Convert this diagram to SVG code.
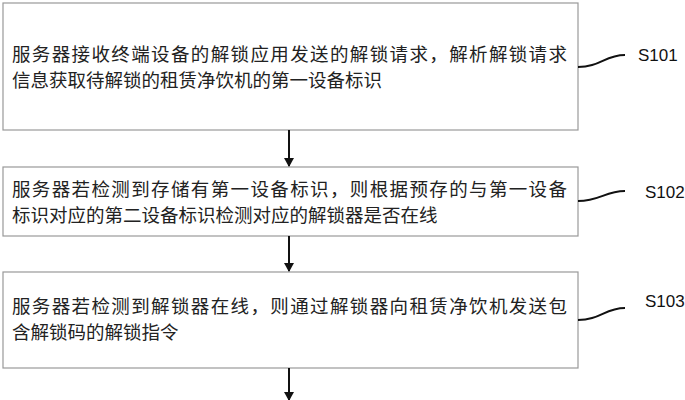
<svg xmlns="http://www.w3.org/2000/svg" width="685" height="400" viewBox="0 0 685 400">
<style>
.b{fill:#fff;stroke:#999;stroke-width:1.2}
.t{font-family:"Noto Sans CJK SC","Liberation Sans",sans-serif;font-size:18.5px;fill:#222}
.l{font-family:"Liberation Sans",sans-serif;font-size:17px;fill:#111}
.c{fill:none;stroke:#111;stroke-width:2}
.a{stroke:#111;stroke-width:2;fill:none}
</style>
<defs><marker id="m" markerWidth="10" markerHeight="10" refX="8" refY="5" orient="auto" markerUnits="userSpaceOnUse"><path d="M0,0 L9,5 L0,10 Z" fill="#111"/></marker></defs>
<g id="n1"><rect class="b" x="3" y="3" width="575" height="127"/>
<text class="t" x="12" y="61" textLength="555">服务器接收终端设备的解锁应用发送的解锁请求，解析解锁请求</text>
<text class="t" x="12" y="87">信息获取待解锁的租赁净饮机的第一设备标识</text>
<path class="c" d="M578,67 C600,67 605,55 625,55"/><text class="l" x="638" y="61">S101</text></g>
<g id="n2"><rect class="b" x="3" y="167" width="575" height="69"/>
<text class="t" x="12" y="196" textLength="555">服务器若检测到存储有第一设备标识，则根据预存的与第一设备</text>
<text class="t" x="12" y="222">标识对应的第二设备标识检测对应的解锁器是否在线</text>
<path class="c" d="M578,201 C600,201 605,191 625,191"/><text class="l" x="645" y="198">S102</text></g>
<g id="n3"><rect class="b" x="3" y="272" width="575" height="96"/>
<text class="t" x="12" y="313" textLength="555">服务器若检测到解锁器在线，则通过解锁器向租赁净饮机发送包</text>
<text class="t" x="12" y="339">含解锁码的解锁指令</text>
<path class="c" d="M578,320 C600,320 605,308 625,308"/><text class="l" x="645" y="307">S103</text></g>
<g id="edges">
<line class="a" x1="289" y1="130" x2="289" y2="166" marker-end="url(#m)"/>
<line class="a" x1="289" y1="236" x2="289" y2="271" marker-end="url(#m)"/>
<line class="a" x1="289" y1="368" x2="289" y2="400" marker-end="url(#m)"/>
</g>
</svg>
